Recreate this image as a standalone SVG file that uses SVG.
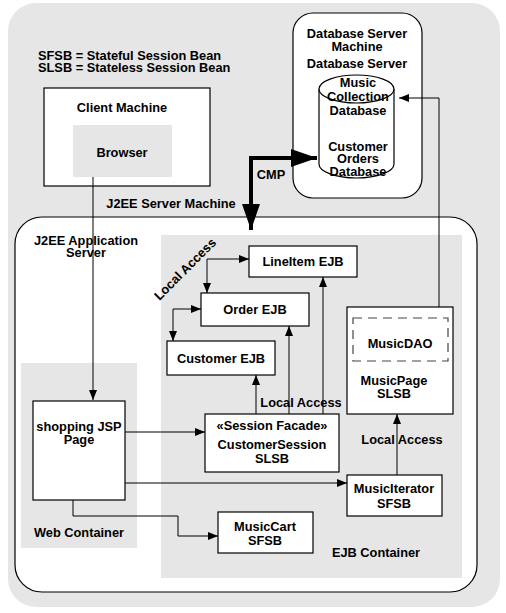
<svg xmlns="http://www.w3.org/2000/svg" width="506" height="613" viewBox="0 0 506 613">
<defs>
<style>
text{font-family:"Liberation Sans",Arial,sans-serif;font-weight:bold;font-size:12.8px;fill:#000;text-anchor:middle}
.l{text-anchor:start}
.box{fill:#fff;stroke:#000;stroke-width:1.2}
.gray{fill:#e6e6e6;stroke:none}
.c{fill:none;stroke:#000;stroke-width:1}
</style>
<marker id="ah" viewBox="0 0 10 8" refX="10" refY="4" markerWidth="10" markerHeight="8" orient="auto-start-reverse" markerUnits="userSpaceOnUse"><path d="M0,0 L10,4 L0,8 z" fill="#000"/></marker>
<marker id="big" viewBox="0 0 26 18" refX="26" refY="9" markerWidth="26" markerHeight="18" orient="auto-start-reverse" markerUnits="userSpaceOnUse"><path d="M0,0 L26,9 L0,18 z" fill="#000"/></marker>
</defs>
<rect x="0" y="0" width="506" height="613" fill="#fff"/>
<rect x="8" y="3" width="492" height="604" rx="28" class="gray"/>

<g id="legend">
<text class="l" x="38" y="59.5">SFSB = Stateful Session Bean</text>
<text class="l" x="38" y="71.5">SLSB = Stateless Session Bean</text>
</g>

<g id="client-machine">
<rect x="44" y="88" width="166" height="98" class="box"/>
<text x="122" y="111.5">Client Machine</text>
</g>
<g id="browser">
<rect x="73" y="125" width="99" height="52" class="gray"/>
<text x="122" y="156.5">Browser</text>
</g>

<g id="database-server-machine">
<rect x="293" y="13" width="129" height="185" rx="20" class="box"/>
<text x="357" y="37.5">Database Server</text>
<text x="357" y="50.5">Machine</text>
<text x="357" y="67.5">Database Server</text>
</g>
<g id="database">
<path d="M319,89 V164 A37.5,14 0 0 0 394,164 V89" class="box"/>
<ellipse cx="356.5" cy="89" rx="37.5" ry="14" class="box"/>
<text x="358" y="86.5">Music</text>
<text x="358" y="100.5">Collection</text>
<text x="358" y="114.5">Database</text>
<text x="358" y="150.5">Customer</text>
<text x="358" y="162.5">Orders</text>
<text x="358" y="175.5">Database</text>
</g>

<g id="j2ee-server-machine">
<text x="171" y="207.5">J2EE Server Machine</text>
<rect x="15" y="217" width="462" height="375" rx="27" class="box"/>
<text x="86" y="244.5">J2EE Application</text>
<text x="86" y="256.5">Server</text>
</g>

<g id="ejb-container">
<rect x="161" y="235" width="301" height="343" class="gray"/>
<text x="376" y="556.5">EJB Container</text>
</g>
<g id="web-container">
<rect x="21" y="363" width="116" height="185" class="gray"/>
<text x="79" y="536.5">Web Container</text>
</g>

<g id="shopping-jsp">
<rect x="33" y="401" width="92" height="99" class="box"/>
<text x="79" y="430.5">shopping JSP</text>
<text x="79" y="443.5">Page</text>
</g>
<g id="lineitem-ejb">
<rect x="249" y="246" width="108" height="31" class="box"/>
<text x="303" y="266">LineItem EJB</text>
</g>
<g id="order-ejb">
<rect x="201" y="293" width="108" height="33" class="box"/>
<text x="255" y="314">Order EJB</text>
</g>
<g id="customer-ejb">
<rect x="167" y="341" width="108" height="34" class="box"/>
<text x="221" y="362.5">Customer EJB</text>
</g>
<g id="customer-session">
<rect x="205" y="414" width="134" height="58" class="box"/>
<text x="272" y="429.5">«Session Facade»</text>
<text x="272" y="448.5">CustomerSession</text>
<text x="272" y="462.5">SLSB</text>
</g>
<g id="music-page">
<rect x="347" y="307" width="106" height="107" class="box"/>
<rect x="353" y="318" width="95" height="43" fill="none" stroke="#444" stroke-width="1.2" stroke-dasharray="9,6"/>
<text x="400" y="347.5">MusicDAO</text>
<text x="394" y="384.5">MusicPage</text>
<text x="394" y="397.5">SLSB</text>
</g>
<g id="music-iterator">
<rect x="347" y="475" width="95" height="41" class="box"/>
<text x="394" y="492.5">MusicIterator</text>
<text x="394" y="507.5">SFSB</text>
</g>
<g id="music-cart">
<rect x="218" y="512" width="95" height="41" class="box"/>
<text x="265" y="530.5">MusicCart</text>
<text x="265" y="544.5">SFSB</text>
</g>

<g id="connectors">
<path d="M93,177 V400" class="c" marker-end="url(#ah)"/>
<path d="M439,307 V98 H399" class="c" marker-end="url(#ah)"/>
<path d="M317,158 H251 V230" fill="none" stroke="#000" stroke-width="4" stroke-linejoin="miter" marker-start="url(#big)" marker-end="url(#big)"/>
<path d="M207,293 V259 H249" class="c" marker-start="url(#ah)" marker-end="url(#ah)"/>
<path d="M173,341 V309 H201" class="c" marker-start="url(#ah)" marker-end="url(#ah)"/>
<path d="M256,414 V375" class="c" marker-end="url(#ah)"/>
<path d="M289,414 V326" class="c" marker-end="url(#ah)"/>
<path d="M323,414 V277" class="c" marker-end="url(#ah)"/>
<path d="M397,475 V414" class="c" marker-end="url(#ah)"/>
<path d="M125,432 H205" class="c" marker-end="url(#ah)"/>
<path d="M125,483 H347" class="c" marker-end="url(#ah)"/>
<path d="M73,500 V516 H178 V536 H218" class="c" marker-end="url(#ah)"/>
<text x="271" y="178.5">CMP</text>
<text x="185" y="273.5" transform="rotate(-45 185 269)">Local Access</text>
<text x="301" y="406.5">Local Access</text>
<text x="402" y="443.5">Local Access</text>
</g>
</svg>
